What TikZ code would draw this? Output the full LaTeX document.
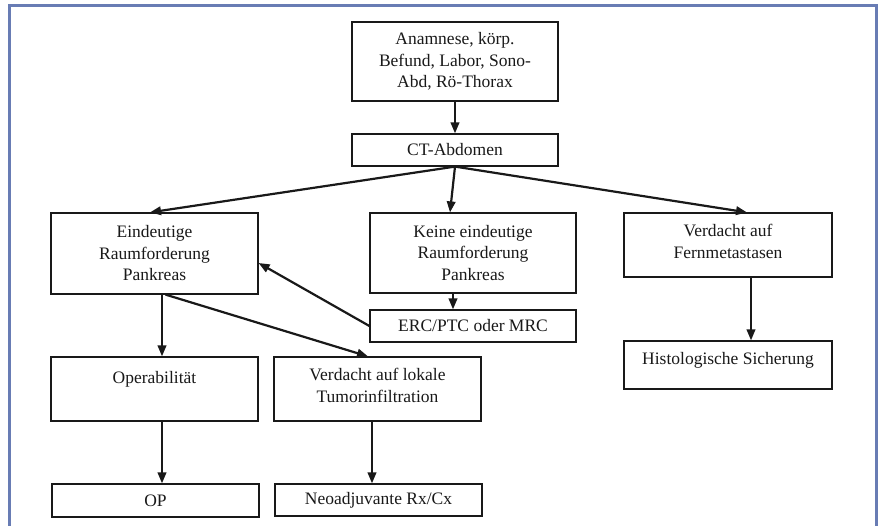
\documentclass[tikz,border=0pt]{standalone}
\usepackage{fontspec}
\setmainfont{Liberation Serif}
\usetikzlibrary{arrows.meta,calc}
\definecolor{frameblue}{RGB}{104,124,180}
\definecolor{ink}{RGB}{25,25,25}
\begin{document}
\begin{tikzpicture}[x=1pt,y=-1pt,
  box/.style={draw=ink, line width=1.2pt, fill=white, inner sep=0pt, align=center,
    font=\fontsize{17.5}{21.5}\selectfont, text=ink},
  txt/.style={font=\fontsize{17.5}{21.5}\selectfont, text=ink, align=center, inner sep=0pt},
  arr/.style={draw=ink, line width=2.2pt, -{Triangle[length=11pt,width=8.5pt]}},
  frame/.style={draw=frameblue, line width=3pt}]
\useasboundingbox (0,0) rectangle (882,526);
\fill[white] (0,0) rectangle (882,526);
\draw[frame] (9.5,526) -- (9.5,6) -- (876.5,6) -- (876.5,526);

\node[box, minimum width=206pt, minimum height=79pt] (top) at (455,61.5)
  {Anamnese, körp.\\Befund, Labor, Sono-\\Abd, Rö-Thorax};
\node[box, minimum width=206pt, minimum height=32pt] (ct) at (455,150) {CT-Abdomen};

\node[box, minimum width=207pt, minimum height=81pt] (ein) at (154.5,253.5)
  {Eindeutige\\Raumforderung\\Pankreas};
\node[box, minimum width=206pt, minimum height=80pt] (kei) at (473,253)
  {Keine eindeutige\\Raumforderung\\Pankreas};
\node[box, minimum width=208pt, minimum height=64pt,
  label={[txt,yshift=3.5pt]center:{Verdacht auf\\Fernmetastasen}}] (fern) at (728,245) {};
\node[box, minimum width=206pt, minimum height=32pt] (erc) at (473,326) {ERC/PTC oder MRC};
\node[box, minimum width=208pt, minimum height=48pt,
  label={[txt,yshift=5pt]center:{Histologische Sicherung}}] (hist) at (728,365) {};
\node[box, minimum width=207pt, minimum height=64pt,
  label={[txt,yshift=10pt]center:{Operabilität}}] (oper) at (154.5,389) {};
\node[box, minimum width=207pt, minimum height=64pt,
  label={[txt,yshift=3.5pt]center:{Verdacht auf lokale\\Tumorinfiltration}}] (lok) at (377.5,389) {};
\node[box, minimum width=207pt, minimum height=33pt] (opb) at (155.5,500.5) {OP};
\node[box, minimum width=207pt, minimum height=32pt] (neo) at (378.5,500) {Neoadjuvante Rx/Cx};

\draw[arr] (top.south) -- (ct.north);
\draw[arr] (ct.south) -- ([xshift=-4.5pt]ein.north);
\draw[arr] (ct.south) -- ([xshift=-23pt]kei.north);
\draw[arr] (ct.south) -- ([xshift=19pt]fern.north);
\draw[arr] ([xshift=-20pt]kei.south) -- ([xshift=-20pt]erc.north);
\draw[arr] (erc.west) -- ([yshift=-9.5pt]ein.east);
\draw[arr] ([xshift=7.5pt]ein.south) -- ([xshift=7.5pt]oper.north);
\draw[arr] ([xshift=11pt]ein.south) -- ([xshift=-9.5pt]lok.north);
\draw[arr] ([xshift=23pt]fern.south) -- ([xshift=23pt]hist.north);
\draw[arr] ([xshift=7.5pt]oper.south) -- ([xshift=7.5pt]oper.south |- opb.north);
\draw[arr] ([xshift=-5.5pt]lok.south) -- ([xshift=-5.5pt]lok.south |- neo.north);
\end{tikzpicture}
\end{document}
